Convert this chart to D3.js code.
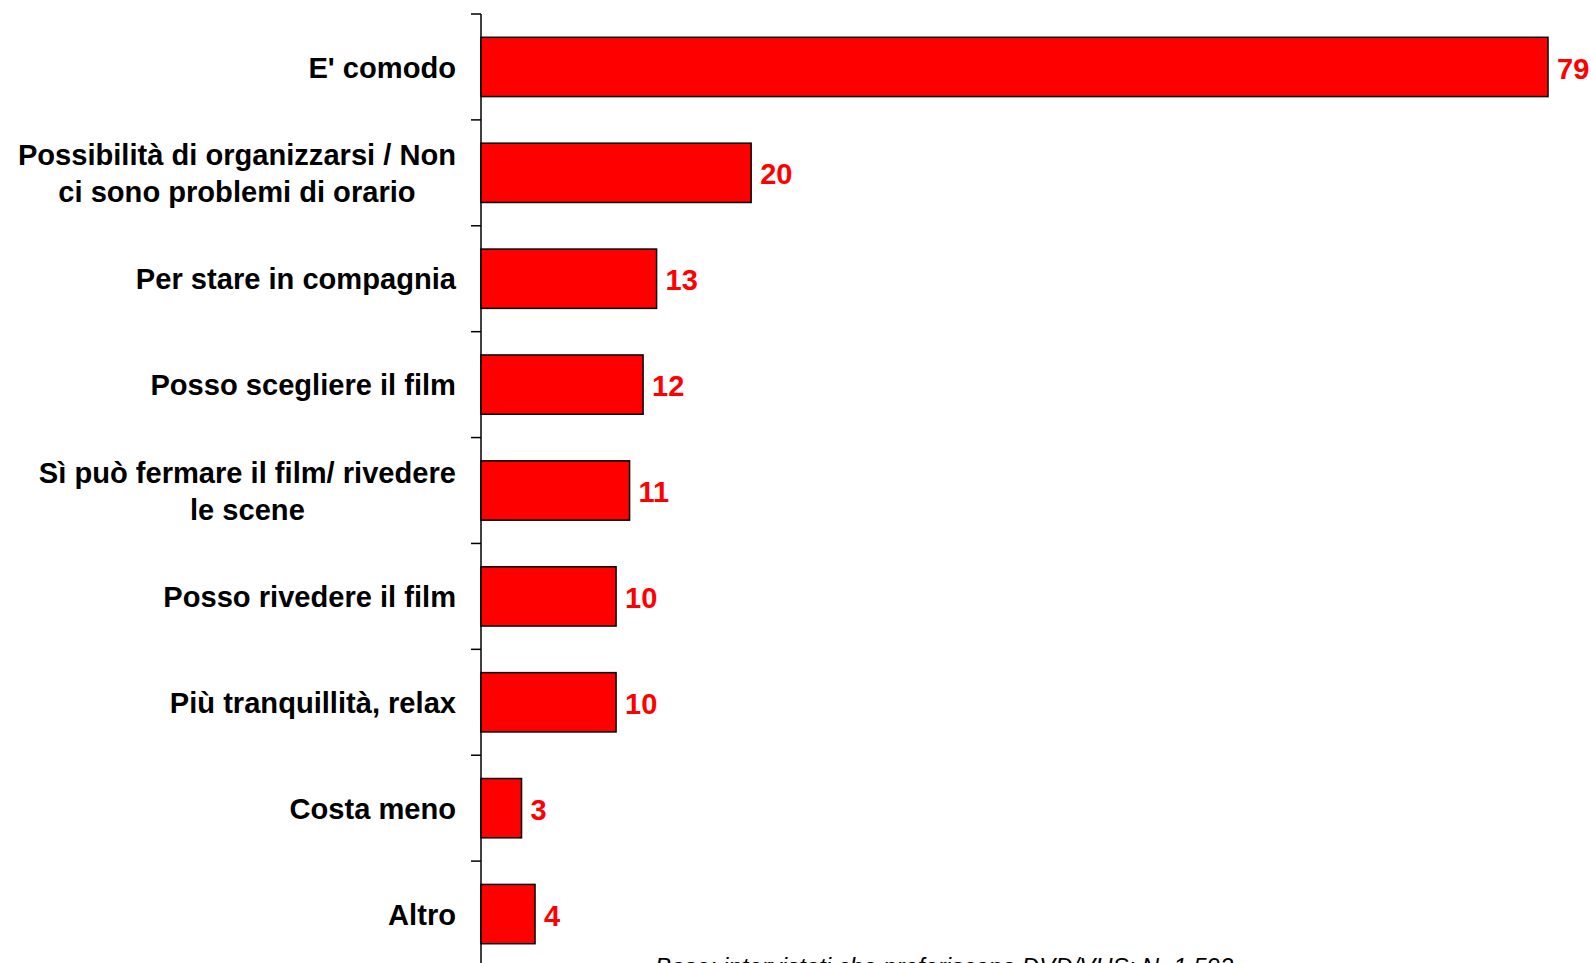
<!DOCTYPE html>
<html>
<head>
<meta charset="utf-8">
<script src="https://cdn.jsdelivr.net/npm/d3@7"></script>
<style>
  html, body { margin: 0; padding: 0; background: #fff; overflow: hidden; }
  svg { display: block; }
</style>
</head>
<body>
<svg id="chart" width="1591" height="963"></svg>
<script>
const categories = [
  ["E' comodo"],
  ["Possibilità di organizzarsi / Non", "ci sono problemi di orario"],
  ["Per stare in compagnia"],
  ["Posso scegliere il film"],
  ["Sì può fermare il film/ rivedere", "le scene"],
  ["Posso rivedere il film"],
  ["Più tranquillità, relax"],
  ["Costa meno"],
  ["Altro"]
];
const values = [79, 20, 13, 12, 11, 10, 10, 3, 4];
const footnote = "Base: intervistati che preferiscono DVD/VHS: N=1.592";

const keys = categories.map(c => c.join(" "));
const svg = d3.select("#chart");
const x0 = 481;
const x = d3.scaleLinear().domain([0, 79]).range([x0, 1548]);
const y = d3.scaleBand().domain(keys).range([14, 967]).paddingInner(0.44).paddingOuter(0.22);
const step = y.step();
const outer = step * 0.22;

// axis line
svg.append("line")
  .attr("x1", x0).attr("x2", x0)
  .attr("y1", y.range()[0]).attr("y2", y.range()[1])
  .attr("stroke", "#000").attr("stroke-width", 1.5);

// ticks at band boundaries
const tickYs = keys.map(k => y(k) - outer).concat([y.range()[1]]);
svg.selectAll("line.tick").data(tickYs).join("line")
  .attr("class", "tick")
  .attr("x1", x0 - 10).attr("x2", x0)
  .attr("y1", d => d).attr("y2", d => d)
  .attr("stroke", "#000").attr("stroke-width", 1.5);

// bars
svg.selectAll("rect.bar").data(values).join("rect")
  .attr("class", "bar")
  .attr("x", x(0))
  .attr("y", (d, i) => y(keys[i]))
  .attr("width", d => x(d) - x(0))
  .attr("height", y.bandwidth())
  .attr("fill", "#FF0000")
  .attr("stroke", "#000")
  .attr("stroke-width", 1.5);

// value labels
svg.selectAll("text.val").data(values).join("text")
  .attr("class", "val")
  .attr("x", d => x(d) + 9)
  .attr("y", (d, i) => y(keys[i]) + y.bandwidth() / 2)
  .attr("dy", "0.4em")
  .attr("fill", "#FF0000")
  .attr("font-family", "'Liberation Sans', Arial, sans-serif")
  .attr("font-weight", "bold")
  .attr("font-size", 29)
  .text(d => d);

// category labels
const labelRight = 456;
const lineH = 37.5;
categories.forEach((lines, i) => {
  const cy = y(keys[i]) + y.bandwidth() / 2;
  const g = svg.append("g");
  const texts = lines.map((ln, j) => g.append("text")
    .attr("y", cy + (j - (lines.length - 1) / 2) * lineH)
    .attr("dy", "0.37em")
    .attr("fill", "#000")
    .attr("font-family", "'Liberation Sans', Arial, sans-serif")
    .attr("font-weight", "bold")
    .attr("font-size", 29.1)
    .attr("text-anchor", "middle")
    .text(ln));
  const maxW = d3.max(texts, t => t.node().getComputedTextLength());
  texts.forEach(t => t.attr("x", labelRight - maxW / 2));
});

// footnote
svg.append("text")
  .attr("x", 655)
  .attr("y", 975)
  .attr("fill", "#000")
  .attr("font-family", "'Liberation Sans', Arial, sans-serif")
  .attr("font-style", "italic")
  .attr("font-size", 24)
  .text(footnote);
</script>
</body>
</html>
